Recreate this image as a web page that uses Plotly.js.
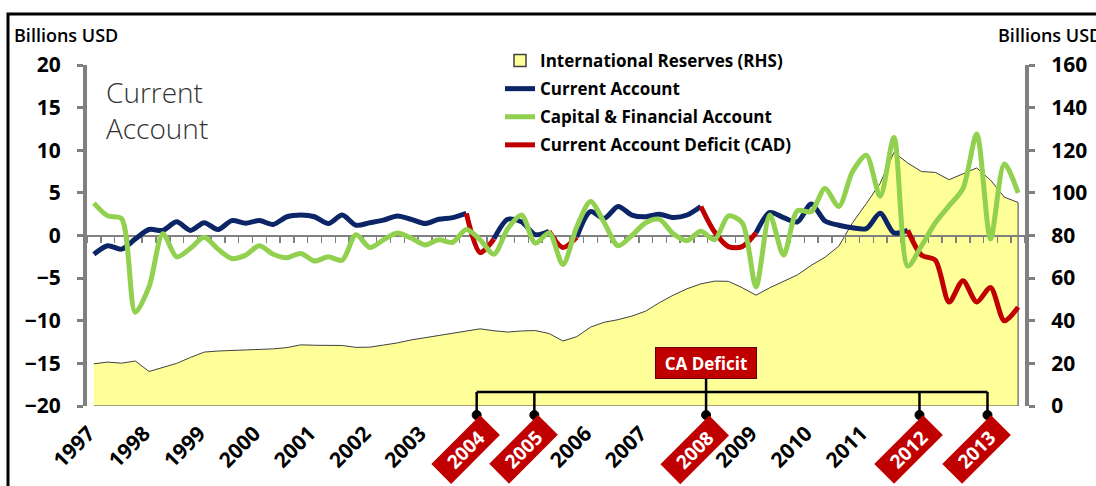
<!DOCTYPE html>
<html>
<head>
<meta charset="utf-8">
<script src="https://cdn.plot.ly/plotly-3.0.1.min.js"></script>
<style>
html,body{margin:0;padding:0;background:#fff;}
#chart{width:1096px;height:486px;}
</style>
</head>
<body>
<div id="chart"></div>
<script>
// ---- Data (quarterly, 1997Q1 .. 2013Q4), billions USD ----
const years = ['1997','1998','1999','2000','2001','2002','2003','2004','2005','2006','2007','2008','2009','2010','2011','2012','2013'];
const cadYears = ['2004','2005','2008','2012','2013'];

const currentAccount = [
  -2.2, -1.2, -1.6, -0.4, 0.7, 0.6, 1.6, 0.6, 1.5, 0.7, 1.75, 1.45, 1.75, 1.3, 2.2, 2.4,
   2.2, 1.4, 2.4, 1.2, 1.5, 1.8, 2.3, 1.9, 1.4, 1.9, 2.1, 2.6, -2.0, -0.4, 1.9, 1.6,
   0.1, 0.5, -1.4, -0.2, 2.8, 2.0, 3.4, 2.4, 2.2, 2.5, 2.1, 2.4, 3.4, 0.4, -1.3, -1.3,
   0.3, 2.7, 2.1, 1.6, 3.7, 1.7, 1.2, 0.9, 0.8, 2.6, 0.3, 0.6, -2.3, -2.9, -7.8, -5.3,
  -7.8, -6.1, -10.0, -8.4
];

const capitalFinancial = [
   3.8, 2.3, 2.0, -9.0, -6.0, 0.2, -2.5, -1.5, -0.2, -1.6, -2.7, -2.3, -1.2, -2.2, -2.6, -2.1,
  -3.0, -2.5, -2.9, 0.1, -1.4, -0.5, 0.3, -0.3, -1.1, -0.5, -0.8, 0.7, -0.5, -2.2, 0.8, 2.4,
  -0.9, 0.3, -3.4, 1.0, 4.0, 1.5, -1.2, 0.0, 1.5, 1.9, 0.2, -0.6, 0.5, -0.5, 2.3, 1.5,
  -6.0, 2.4, -2.3, 2.9, 2.8, 5.5, 3.4, 7.5, 9.4, 4.6, 11.5, -3.6, -1.2, 1.5, 3.5, 5.5,
  11.9, -0.4, 8.4, 5.0
];

const reserves = [
  19.8, 20.6, 20.1, 21.1, 16.2, 18.0, 20.0, 22.8, 25.3, 25.8, 26.1, 26.4, 26.4, 26.8, 27.4, 28.7,
  28.5, 28.3, 28.4, 27.5, 27.6, 28.6, 29.6, 31.0, 32.0, 33.0, 33.9, 35.0, 36.2, 35.3, 34.7, 35.2,
  35.4, 34.0, 30.5, 32.5, 37.0, 39.3, 40.5, 42.2, 44.5, 48.5, 52.0, 55.0, 57.3, 58.6, 58.5, 55.5,
  52.0, 55.5, 58.5, 61.5, 66.0, 69.8, 75.0, 86.0, 95.0, 104.5, 119.0, 114.0, 110.0, 109.6, 106.2, 109.0,
  111.7, 106.0, 98.0, 95.5
];

// quarter-index ranges drawn in red as Current Account Deficit
const cadEpisodes = [[27, 29], [33, 35], [44, 48], [59, 67]];
// quarter positions (fractional index) of the CA-deficit year markers
const cadMarkerPos = [27.75, 31.93, 44.38, 59.85, 64.78];

// ---- derived series ----
const n = currentAccount.length;
const idx = currentAccount.map((_, i) => i);
const inCad = (i) => cadEpisodes.some(([s, e]) => i >= s && i <= e);
const insideCad = (i) => cadEpisodes.some(([s, e]) => i > s && (i < e || e === n - 1));
const caBlue = currentAccount.map((v, i) => insideCad(i) ? null : v);
const caRed = currentAccount.map((v, i) => inCad(i) ? v : null);

// area polygon closed to zero so it gets an outline all round
const resX = idx.concat([n - 1, 0]);
const resY = reserves.concat([0, 0]);

const yearTickVals = [], yearTickText = [];
years.forEach((y, k) => {
  if (cadYears.indexOf(y) < 0) { yearTickVals.push(k * 4); yearTickText.push(y); }
});

const NAVY = '#0b2566', GREEN = '#92d050', RED = '#c00000', GREY = '#808080', YELLOW = '#ffff99';
const BOLD = {family: 'Open Sans, Noto Sans, sans-serif', weight: 700, color: '#000'};

const traces = [
  {x: resX, y: resY, xaxis: 'x', yaxis: 'y', type: 'scatter', mode: 'lines',
   fill: 'toself', fillcolor: YELLOW, line: {color: '#404040', width: 1},
   name: 'International Reserves (RHS)', showlegend: false, hoverinfo: 'skip'},
  // legend entry for the reserves area (box-style swatch)
  {x: [null], y: [null], xaxis: 'x', yaxis: 'y', type: 'bar',
   marker: {color: YELLOW, line: {color: '#404040', width: 1.5}},
   name: 'International Reserves (RHS)', legendrank: 1, legendgroup: 'g1'},
  {x: idx, y: caBlue, xaxis: 'x2', yaxis: 'y2', type: 'scatter', mode: 'lines',
   line: {color: NAVY, width: 5, shape: 'spline', smoothing: 0.8},
   name: 'Current Account', legendrank: 2, legendgroup: 'g2', connectgaps: false},
  {x: idx, y: caRed, xaxis: 'x2', yaxis: 'y2', type: 'scatter', mode: 'lines',
   line: {color: RED, width: 5, shape: 'spline', smoothing: 0.8},
   name: 'Current Account Deficit (CAD)', legendrank: 4, legendgroup: 'g4', connectgaps: false},
  {x: idx, y: capitalFinancial, xaxis: 'x2', yaxis: 'y2', type: 'scatter', mode: 'lines',
   line: {color: GREEN, width: 5, shape: 'spline', smoothing: 0.8},
   name: 'Capital & Financial Account', legendrank: 3, legendgroup: 'g3'}
];

// paper-coordinate helpers (plot area: x 87..1025 px, y 65..406 px)
const px = (p) => (p - 87) / 938;
const py = (p) => (406 - p) / 341;

const shapes = [
  // outer frame
  {type: 'rect', xref: 'paper', yref: 'paper', x0: px(8), x1: px(1110), y0: py(500), y1: py(14),
   line: {color: '#000', width: 3}, fillcolor: 'rgba(0,0,0,0)', layer: 'above'},
  // bracket horizontal
  {type: 'line', xref: 'x', yref: 'paper', x0: cadMarkerPos[0], x1: cadMarkerPos[cadMarkerPos.length - 1],
   y0: py(392), y1: py(392), line: {color: '#000', width: 2.5}, layer: 'above'},
  // stem from CA Deficit box
  {type: 'line', xref: 'x', yref: 'paper', x0: cadMarkerPos[2], x1: cadMarkerPos[2],
   y0: py(378), y1: py(392), line: {color: '#000', width: 2.5}, layer: 'above'}
];
cadMarkerPos.forEach((p) => {
  shapes.push({type: 'line', xref: 'x', yref: 'paper', x0: p, x1: p, y0: py(392), y1: py(415),
    line: {color: '#000', width: 2.5}, layer: 'above'});
  shapes.push({type: 'circle', xref: 'x', yref: 'paper', xsizemode: 'pixel', ysizemode: 'pixel',
    xanchor: p, yanchor: py(415), x0: -4.5, x1: 4.5, y0: -4.5, y1: 4.5,
    fillcolor: '#000', line: {color: '#000', width: 1}, layer: 'above'});
});

const annotations = [
  {xref: 'paper', yref: 'paper', x: px(12), y: py(35), xanchor: 'left', yanchor: 'middle', showarrow: false,
   text: 'Billions USD', font: {family: 'Open Sans, sans-serif', size: 18, weight: 600, color: '#000'}},
  {xref: 'paper', yref: 'paper', x: px(996), y: py(35), xanchor: 'left', yanchor: 'middle', showarrow: false,
   text: 'Billions USD', font: {family: 'Open Sans, sans-serif', size: 18, weight: 600, color: '#000'}},
  {xref: 'paper', yref: 'paper', x: px(104), y: py(110), xanchor: 'left', yanchor: 'middle', showarrow: false,
   align: 'left', text: 'Current<br>Account',
   font: {family: 'Open Sans, sans-serif', size: 28, weight: 300, color: '#333'}},
  {xref: 'x', yref: 'paper', x: cadMarkerPos[2], y: py(363), xanchor: 'center', yanchor: 'middle', showarrow: false,
   text: 'CA Deficit', bgcolor: RED, bordercolor: '#600000', borderwidth: 1, width: 98, height: 28,
   font: {family: 'Open Sans, sans-serif', size: 17, weight: 700, color: '#fff'}}
];
cadYears.forEach((y, k) => {
  annotations.push({xref: 'x', yref: 'paper', x: cadMarkerPos[k] - 0.78, y: py(450),
    xanchor: 'center', yanchor: 'middle', showarrow: false, textangle: -45,
    text: y, bgcolor: RED, width: 68, height: 27, borderpad: 0,
    font: {family: 'Open Sans, sans-serif', size: 19, weight: 700, color: '#fff'}});
});

const layout = {
  width: 1096, height: 486,
  margin: {l: 87, r: 71, t: 65, b: 80, pad: 0},
  paper_bgcolor: '#fff', plot_bgcolor: 'rgba(0,0,0,0)',
  showlegend: true,
  hovermode: false,
  legend: {x: px(500), y: py(43), xanchor: 'left', yanchor: 'top', bgcolor: 'rgba(0,0,0,0)',
    font: {family: 'Open Sans, sans-serif', size: 17, weight: 700, color: '#000'},
    itemwidth: 30, tracegroupgap: 3, traceorder: 'grouped'},
  xaxis: {domain: [0, 1], range: [-0.5, 67.5], anchor: 'y', showline: false, ticks: '',
    showgrid: false, zeroline: false, tickmode: 'array', tickvals: yearTickVals, ticktext: yearTickText,
    tickangle: -45, ticklabelstandoff: 10, ticklabelshift: -5, tickfont: Object.assign({size: 21}, BOLD)},
  yaxis: {domain: [0, 1], range: [0, 160], side: 'right', anchor: 'x', dtick: 20,
    showgrid: false, zeroline: false, showline: true, linecolor: GREY, linewidth: 4,
    ticks: 'outside', ticklen: 6, tickwidth: 3, tickcolor: GREY, ticklabelstandoff: 12,
    tickfont: Object.assign({size: 21}, BOLD)},
  xaxis2: {domain: [0, 1], range: [-0.5, 67.5], anchor: 'free', position: 0.5, side: 'bottom',
    showline: true, linecolor: GREY, linewidth: 2, showgrid: false, zeroline: false,
    tickmode: 'linear', tick0: -0.5, dtick: 1, ticks: 'outside', ticklen: 6, tickwidth: 1.5,
    tickcolor: GREY, showticklabels: false, layer: 'below traces'},
  yaxis2: {domain: [0, 1], range: [-20, 20], side: 'left', anchor: 'x2', dtick: 5,
    showgrid: false, zeroline: false, showline: true, linecolor: GREY, linewidth: 4,
    ticks: 'outside', ticklen: 6, tickwidth: 3, tickcolor: GREY, ticklabelstandoff: 12,
    tickfont: Object.assign({size: 21}, BOLD)},
  shapes: shapes,
  annotations: annotations
};

Plotly.newPlot('chart', traces, layout, {staticPlot: true, displayModeBar: false});
</script>
</body>
</html>
